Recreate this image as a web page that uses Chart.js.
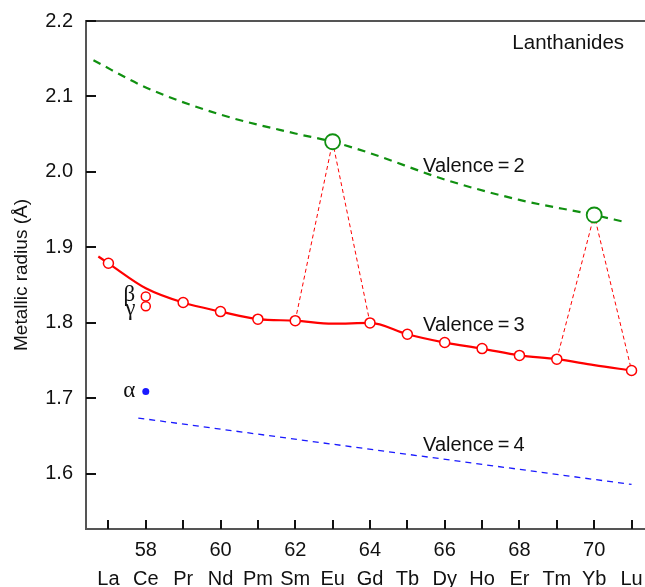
<!DOCTYPE html>
<html>
<head>
<meta charset="utf-8">
<script src="https://cdn.jsdelivr.net/npm/chart.js@4.4.1/dist/chart.umd.min.js"></script>
<style>
  html, body { margin: 0; padding: 0; background: #fff; }
  canvas { display: block; }
</style>
</head>
<body>
<canvas id="chart" width="645" height="587"></canvas>
<script>
// Lanthanide metallic radii vs atomic number
const elements = ['La', 'Ce', 'Pr', 'Nd', 'Pm', 'Sm', 'Eu', 'Gd', 'Tb', 'Dy', 'Ho', 'Er', 'Tm', 'Yb', 'Lu'];
const firstZ = 57;

// trivalent measured points (open red circles)
const triZ = [57, 59, 60, 61, 62, 64, 65, 66, 67, 68, 69, 71];
const triR = [1.879, 1.827, 1.815, 1.805, 1.803, 1.800, 1.785, 1.774, 1.766, 1.757, 1.752, 1.737];

// smooth valence = 3 curve
const curve3Z = [56.73, 57, 58, 59, 60, 61, 62, 63, 64, 65, 66, 67, 68, 69, 70, 71];
const curve3R = [1.888, 1.879, 1.846, 1.827, 1.815, 1.805, 1.803, 1.799, 1.800, 1.785, 1.774, 1.766, 1.757, 1.752, 1.744, 1.737];

// valence = 2 curve (green dashed)
const curve2Z = [56.6, 58, 60, 62, 63, 64, 66, 68, 70, 70.8];
const curve2R = [2.148, 2.112, 2.076, 2.051, 2.040, 2.025, 1.990, 1.963, 1.943, 1.934];

// divalent points Eu, Yb
const divZ = [63, 70];
const divR = [2.040, 1.943];

// valence = 4 line (blue dashed)
const curve4Z = [57.8, 71];
const curve4R = [1.674, 1.586];

// cerium allotropes
const ceBetaGammaR = [1.835, 1.822];
const ceAlphaR = 1.709;

// dashed connectors Sm-Eu-Gd and Tm-Yb-Lu
const linkEuZ = [62, 63, 64];
const linkEuR = [1.803, 2.040, 1.800];
const linkYbZ = [69, 70, 71];
const linkYbR = [1.752, 1.943, 1.737];

const xMin = 56.4, xMax = 71.36;
const yMin = 1.527, yMax = 2.2;

const pts = (xs, ys) => xs.map((x, i) => ({ x: x, y: ys[i] }));

const RED = '#ff0000';
const GREEN = '#109010';
const BLUE = '#1a1aff';
const SANS = '"Liberation Sans", Arial, sans-serif';
const SERIF = '"Liberation Serif", "Times New Roman", serif';

// text annotations in data coordinates
const notes = [
    { text: 'Valence\u2009=\u20092', x: 65.42, y: 2.007, font: '20px ' + SANS, align: 'left' },
    { text: 'Valence\u2009=\u20093', x: 65.42, y: 1.797, font: '20px ' + SANS, align: 'left' },
    { text: 'Valence\u2009=\u20094', x: 65.42, y: 1.638, font: '20px ' + SANS, align: 'left' },
    { text: 'Lanthanides', x: 67.81, y: 2.171, font: '20.5px ' + SANS, align: 'left' },
    { text: '\u03b2', x: 57.72, y: 1.837, font: '23px ' + SERIF, align: 'right' },
    { text: '\u03b3', x: 57.72, y: 1.818, font: '23px ' + SERIF, align: 'right' },
    { text: '\u03b1', x: 57.72, y: 1.710, font: '23px ' + SERIF, align: 'right' }
];

const framePlugin = {
    id: 'frame',
    afterDraw(chart) {
        const { ctx, chartArea: { left, right, top, bottom }, scales: { x, y } } = chart;
        ctx.save();
        // top frame line
        ctx.strokeStyle = '#555555';
        ctx.lineWidth = 2;
        ctx.beginPath();
        ctx.moveTo(left, top);
        ctx.lineTo(right, top);
        ctx.stroke();
        // inward ticks
        ctx.strokeStyle = '#111111';
        ctx.lineWidth = 2;
        ctx.beginPath();
        x.ticks.forEach(t => {
            const px = Math.round(x.getPixelForValue(t.value));
            ctx.moveTo(px, bottom);
            ctx.lineTo(px, bottom - 9);
        });
        y.ticks.forEach(t => {
            const py = Math.round(y.getPixelForValue(t.value));
            ctx.moveTo(left, py);
            ctx.lineTo(left + 10, py);
        });
        ctx.stroke();
        // annotations
        ctx.fillStyle = '#111111';
        ctx.textBaseline = 'middle';
        notes.forEach(n => {
            ctx.font = n.font;
            ctx.textAlign = n.align;
            ctx.fillText(n.text, x.getPixelForValue(n.x), y.getPixelForValue(n.y));
        });
        ctx.restore();
    }
};

new Chart(document.getElementById('chart'), {
    type: 'scatter',
    data: {
        datasets: [
            {
                // trivalent points
                data: pts(triZ, triR),
                showLine: false,
                pointRadius: 5,
                pointBorderWidth: 1.5,
                pointBorderColor: RED,
                pointBackgroundColor: '#ffffff',
                order: 0
            },
            {
                // Ce beta / gamma
                data: ceBetaGammaR.map(r => ({ x: 58, y: r })),
                showLine: false,
                pointRadius: 4.5,
                pointBorderWidth: 1.5,
                pointBorderColor: RED,
                pointBackgroundColor: '#ffffff',
                order: 0
            },
            {
                // Ce alpha
                data: [{ x: 58, y: ceAlphaR }],
                showLine: false,
                pointRadius: 3.5,
                pointBorderWidth: 0,
                pointBackgroundColor: BLUE,
                order: 0
            },
            {
                // divalent Eu, Yb
                data: pts(divZ, divR),
                showLine: false,
                pointRadius: 7.5,
                pointBorderWidth: 1.8,
                pointBorderColor: GREEN,
                pointBackgroundColor: '#ffffff',
                order: 0
            },
            {
                data: pts(curve3Z, curve3R),
                showLine: true,
                borderColor: RED,
                borderWidth: 2.2,
                pointRadius: 0,
                cubicInterpolationMode: 'monotone',
                order: 2
            },
            {
                data: pts(curve2Z, curve2R),
                showLine: true,
                borderColor: GREEN,
                borderWidth: 2.2,
                borderDash: [8, 6],
                pointRadius: 0,
                cubicInterpolationMode: 'monotone',
                order: 2
            },
            {
                data: pts(curve4Z, curve4R),
                showLine: true,
                borderColor: BLUE,
                borderWidth: 1.3,
                borderDash: [6, 5],
                pointRadius: 0,
                order: 2
            },
            {
                data: pts(linkEuZ, linkEuR),
                showLine: true,
                borderColor: RED,
                borderWidth: 1,
                borderDash: [4, 3],
                pointRadius: 0,
                order: 3
            },
            {
                data: pts(linkYbZ, linkYbR),
                showLine: true,
                borderColor: RED,
                borderWidth: 1,
                borderDash: [4, 3],
                pointRadius: 0,
                order: 3
            }
        ]
    },
    options: {
        responsive: false,
        animation: false,
        events: [],
        layout: {
            autoPadding: false,
            padding: { top: 21, right: 0, left: 0, bottom: 0 }
        },
        plugins: {
            legend: { display: false },
            tooltip: { enabled: false }
        },
        scales: {
            x: {
                type: 'linear',
                min: xMin,
                max: xMax,
                afterFit(scale) {
                    scale.height = 58;
                    scale.paddingLeft = 0;
                    scale.paddingRight = 0;
                },
                grid: { display: false, drawTicks: false },
                border: { display: true, color: '#555555', width: 2 },
                ticks: {
                    stepSize: 1,
                    includeBounds: false,
                    autoSkip: false,
                    maxRotation: 0,
                    padding: 7,
                    color: '#111111',
                    font: { family: SANS, size: 20, lineHeight: 1.45 },
                    callback(value) {
                        const i = Math.round(value) - firstZ;
                        if (i < 0 || i >= elements.length) return '';
                        return [value % 2 === 0 ? String(value) : '', elements[i]];
                    }
                }
            },
            y: {
                type: 'linear',
                min: yMin,
                max: yMax,
                afterFit(scale) {
                    scale.width = 86;
                    scale.paddingTop = 0;
                    scale.paddingBottom = 0;
                },
                grid: { display: false, drawTicks: false },
                border: { display: true, color: '#555555', width: 2 },
                ticks: {
                    stepSize: 0.1,
                    includeBounds: false,
                    padding: 13,
                    color: '#111111',
                    font: { family: SANS, size: 20 },
                    callback(value) { return value.toFixed(1); }
                },
                title: {
                    display: true,
                    text: 'Metallic radius (\u00c5)',
                    color: '#111111',
                    padding: { top: 10, bottom: 0 },
                    font: { family: SANS, size: 19 }
                }
            }
        }
    },
    plugins: [framePlugin]
});
</script>
</body>
</html>
